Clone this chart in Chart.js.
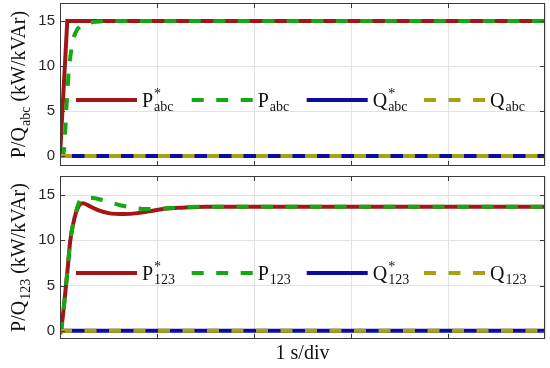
<!DOCTYPE html>
<html>
<head>
<meta charset="utf-8">
<script src="https://cdn.jsdelivr.net/npm/chart.js@4.4.0/dist/chart.umd.min.js"></script>
<style>
  body { margin: 0; background: #fff; }
  canvas { position: absolute; left: 0; }
</style>
</head>
<body>
<canvas id="topChart" width="550" height="171" style="top:0px"></canvas>
<canvas id="botChart" width="550" height="197" style="top:171px"></canvas>
<script>
// ---- data (time in s, power in kW / kVAr) ----
const yTicks = [0, 5, 10, 15];
const xTicks = [1, 2, 3, 4];

// top panel (abc frame)
const tPrefAbc = [0, 0.075, 5];
const vPrefAbc = [0, 15, 15];
const tPAbc = [0, 0.03, 0.057, 0.064, 0.08, 0.09, 0.105, 0.13, 0.18, 0.2, 0.235, 0.3, 0.37, 0.5, 5];
const vPAbc = [0, 0, 3.3, 5, 7.7, 9.5, 10.9, 12.7, 14.1, 14.3, 14.65, 14.8, 14.92, 15, 15];
const tQAbc = [0, 5];
const vQrefAbc = [0, 0];
const vQAbc = [0, 0];

// bottom panel (123 frame)
const tPref123 = [0, 0.01, 0.046, 0.08, 0.105, 0.15, 0.2, 0.235, 0.3, 0.4, 0.5, 0.66, 0.8, 0.97, 1.1, 1.25, 1.5, 5];
const vPref123 = [-0.35, 0, 3.3, 7, 9.9, 12.5, 13.9, 14.1, 13.8, 13.3, 13.0, 12.9, 13.0, 13.3, 13.5, 13.6, 13.7, 13.7];
const tP123 = [0, 0.01, 0.046, 0.08, 0.105, 0.15, 0.2, 0.22, 0.3, 0.36, 0.45, 0.63, 0.75, 0.9, 1.05, 1.25, 1.5, 5];
const vP123 = [-0.3, 0, 3.3, 7, 9.9, 12.5, 14.3, 14.6, 14.7, 14.65, 14.4, 13.85, 13.6, 13.45, 13.5, 13.65, 13.7, 13.7];
const tQ123 = [0, 5];
const vQref123 = [0, 0];
const vQ123 = [0, 0];

const RED = '#a41616', GREEN = '#14a814', BLUE = '#0b0ba6', OLIVE = '#a8a20c';
const SERIF = '"Liberation Serif", serif';
const FRAME = '#3a3a3a';
const FS = 20, FSUB = 14;
const legendOffsets = [16, 131.7, 246.7, 364];

function pts(t, v) { return t.map((x, i) => ({ x: x, y: v[i] })); }

// draws base^sup_sub, returns the width used
function richText(ctx, x, y, base, sup, sub) {
  ctx.font = FS + 'px ' + SERIF;
  ctx.fillText(base, x, y);
  const w = ctx.measureText(base).width;
  ctx.font = FSUB + 'px ' + SERIF;
  let w2 = 0;
  if (sub) { ctx.fillText(sub, x + w + 1, y + 4.6); w2 = ctx.measureText(sub).width; }
  if (sup) { ctx.fillText(sup, x + w + 1, y - 9); w2 = Math.max(w2, ctx.measureText(sup).width); }
  return w + 1 + w2;
}

function frame(sub, xlabel) {
  return {
    id: 'frame',
    afterDraw(chart) {
      const ctx = chart.ctx, a = chart.chartArea;
      const xs = chart.scales.x, ys = chart.scales.y;
      ctx.save();
      // box + inward ticks
      ctx.strokeStyle = FRAME;
      ctx.lineWidth = 1;
      ctx.strokeRect(a.left + 0.5, a.top + 0.5, a.right - a.left - 1, a.bottom - a.top - 1);
      ctx.beginPath();
      yTicks.forEach(v => {
        const p = Math.round(ys.getPixelForValue(v)) + 0.5;
        ctx.moveTo(a.left, p); ctx.lineTo(a.left + 5, p);
        ctx.moveTo(a.right, p); ctx.lineTo(a.right - 5, p);
      });
      xTicks.forEach(v => {
        const p = Math.round(xs.getPixelForValue(v)) + 0.5;
        ctx.moveTo(p, a.top); ctx.lineTo(p, a.top + 5);
        ctx.moveTo(p, a.bottom); ctx.lineTo(p, a.bottom - 5);
      });
      ctx.stroke();

      // legend row inside the axes
      ctx.fillStyle = '#111';
      ctx.textBaseline = 'alphabetic';
      ctx.textAlign = 'left';
      const ly = a.top + 97;
      const items = [
        ['P', '*', sub, RED, []],
        ['P', '', sub, GREEN, [12, 12.5]],
        ['Q', '*', sub, BLUE, []],
        ['Q', '', sub, OLIVE, [12, 12.5]]
      ];
      items.forEach((it, i) => {
        const lx = a.left + legendOffsets[i];
        ctx.strokeStyle = it[3];
        ctx.lineWidth = 4;
        ctx.setLineDash(it[4]);
        ctx.beginPath();
        ctx.moveTo(lx, ly); ctx.lineTo(lx + 61, ly);
        ctx.stroke();
        ctx.setLineDash([]);
        richText(ctx, lx + 66, ly + 6.5, it[0], it[1], it[2]);
      });

      // y axis title
      ctx.translate(25, (a.top + a.bottom) / 2);
      ctx.rotate(-Math.PI / 2);
      ctx.font = FS + 'px ' + SERIF;
      const w1 = ctx.measureText('P/Q').width;
      ctx.font = FSUB + 'px ' + SERIF;
      const w2 = ctx.measureText(sub).width;
      ctx.font = FS + 'px ' + SERIF;
      const w3 = ctx.measureText(' (kW/kVAr)').width;
      let x0 = -(w1 + w2 + w3 + 1) / 2;
      richText(ctx, x0, 0, 'P/Q', '', sub);
      ctx.font = FS + 'px ' + SERIF;
      ctx.fillText(' (kW/kVAr)', x0 + w1 + 1 + w2, 0);
      ctx.setTransform(1, 0, 0, 1, 0, 0);

      if (xlabel) {
        ctx.font = FS + 'px ' + SERIF;
        ctx.textAlign = 'center';
        ctx.fillText(xlabel, (a.left + a.right) / 2, a.bottom + 20);
      }
      ctx.restore();
    }
  };
}

function makeChart(id, sets, ymin, ymax, sub, xlabel, padTop, xHeight, padBottom) {
  return new Chart(document.getElementById(id), {
    type: 'line',
    data: { datasets: sets },
    options: {
      responsive: false,
      animation: false,
      layout: { padding: { top: padTop, right: 5, bottom: padBottom, left: 0 } },
      plugins: { legend: { display: false }, tooltip: { enabled: false } },
      elements: { point: { radius: 0 } },
      scales: {
        x: {
          type: 'linear', min: 0, max: 5,
          afterBuildTicks: s => { s.ticks = [0, 1, 2, 3, 4, 5].map(v => ({ value: v })); },
          afterFit: s => { s.height = xHeight; s.paddingLeft = 0; s.paddingRight = 0; },
          ticks: { display: false },
          grid: { color: '#e2e2e2', drawTicks: false },
          border: { display: false }
        },
        y: {
          min: ymin, max: ymax,
          afterBuildTicks: s => { s.ticks = yTicks.map(v => ({ value: v })); },
          afterFit: s => { s.width = 60; s.paddingTop = 0; s.paddingBottom = 0; },
          ticks: { font: { family: '"Liberation Sans", Arial, sans-serif', size: 15 }, color: '#262626', padding: 5 },
          grid: { color: '#e2e2e2', drawTicks: false },
          border: { display: false }
        }
      }
    },
    plugins: [frame(sub, xlabel)]
  });
}

makeChart('topChart', [
  { label: 'P*abc', data: pts(tPrefAbc, vPrefAbc), borderColor: RED, borderWidth: 4, tension: 0, order: 3 },
  { label: 'Pabc', data: pts(tPAbc, vPAbc), borderColor: GREEN, borderWidth: 4, borderDash: [12, 12.5], cubicInterpolationMode: 'monotone', order: 2 },
  { label: 'Q*abc', data: pts(tQAbc, vQrefAbc), borderColor: BLUE, borderWidth: 4, order: 1 },
  { label: 'Qabc', data: pts(tQAbc, vQAbc), borderColor: OLIVE, borderWidth: 4, borderDash: [12, 12.5], order: 0 }
], -1.1, 17, 'abc', '', 3, 0, 5);

makeChart('botChart', [
  { label: 'P*123', data: pts(tPref123, vPref123), borderColor: RED, borderWidth: 4, cubicInterpolationMode: 'monotone', order: 3 },
  { label: 'P123', data: pts(tP123, vP123), borderColor: GREEN, borderWidth: 4, borderDash: [12, 12.5], cubicInterpolationMode: 'monotone', order: 2 },
  { label: 'Q*123', data: pts(tQ123, vQref123), borderColor: BLUE, borderWidth: 4, order: 1 },
  { label: 'Q123', data: pts(tQ123, vQ123), borderColor: OLIVE, borderWidth: 4, borderDash: [12, 12.5], order: 0 }
], -0.9, 17.1, '123', '1 s/div', 5, 29, 0);
</script>
</body>
</html>
